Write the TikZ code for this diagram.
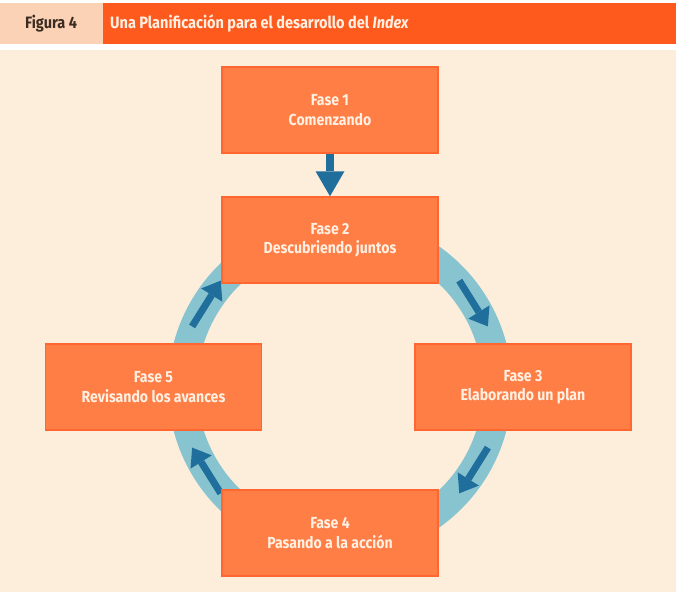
\documentclass[tikz,border=0pt]{standalone}
\usepackage{fontspec}
\setmainfont[FakeStretch=0.88]{Fira Sans}
\usetikzlibrary{arrows.meta}

\definecolor{hdrorange}{HTML}{FF5A1E}
\definecolor{hdrpink}{HTML}{FCD2B6}
\definecolor{panelcream}{HTML}{FDEEDC}
\definecolor{phasefill}{HTML}{FF7E46}
\definecolor{phaseline}{HTML}{FF6630}
\definecolor{phasetext}{HTML}{FFF0E2}
\definecolor{ringblue}{HTML}{88C4D0}
\definecolor{flowblue}{HTML}{1F6E9C}
\definecolor{figtext}{HTML}{3B2C22}

\begin{document}
\begin{tikzpicture}[
  x=1pt, y=1pt,
  font=\fontsize{16}{19.5}\selectfont\bfseries,
  phase/.style={draw=phaseline, line width=1.5pt, fill=phasefill, text=phasetext, minimum width=216pt, minimum height=86pt, align=center, inner sep=0pt},
  flow/.style={draw=flowblue, line width=7pt, -{Triangle[length=17pt,width=25pt,line width=0pt 0]}},
  feed/.style={draw=flowblue, line width=7.5pt, -{Triangle[length=25pt,width=29pt,line width=0pt 0]}},
  hdrtext/.style={anchor=west, inner sep=0pt, font=\fontsize{16.5}{18}\selectfont\bfseries}
]
\useasboundingbox (0,0) rectangle (681,-592);

% header and panel
\fill[hdrpink] (0,-3) rectangle (103,-44);
\fill[hdrorange] (103,-3) rectangle (676,-44);
\fill[panelcream] (0,-50) rectangle (676,-592);
\node[hdrtext, text=figtext] (figlabel) at (25,-23.5) {Figura 4};
\node[hdrtext, text=phasetext] (figtitle) at (110,-23.5) {Una Planificación para el desarrollo del \textit{Index}};

% cycle ring
\coordinate (hub) at (340,-387);
\draw[ringblue, line width=29pt] (hub) circle (157.5);
\foreach \ang in {148,32,-32,-148} {
  \draw[flow, shift={(hub)}, rotate=\ang] (157.5,27) -- (157.5,-27);
}

% phases
\node[phase] (f1) at (330,-110) {Fase 1\\Comenzando};
\node[phase] (f2) at (330,-240) {Fase 2\\Descubriendo juntos};
\node[phase] (f3) at (523,-387) {Fase 3\\Elaborando un plan};
\node[phase] (f4) at (330,-533) {Fase 4\\Pasando a la acción};
\node[phase] (f5) at (153.5,-387) {Fase 5\\Revisando los avances};

\draw[feed] (f1) -- (f2);
\end{tikzpicture}
\end{document}
